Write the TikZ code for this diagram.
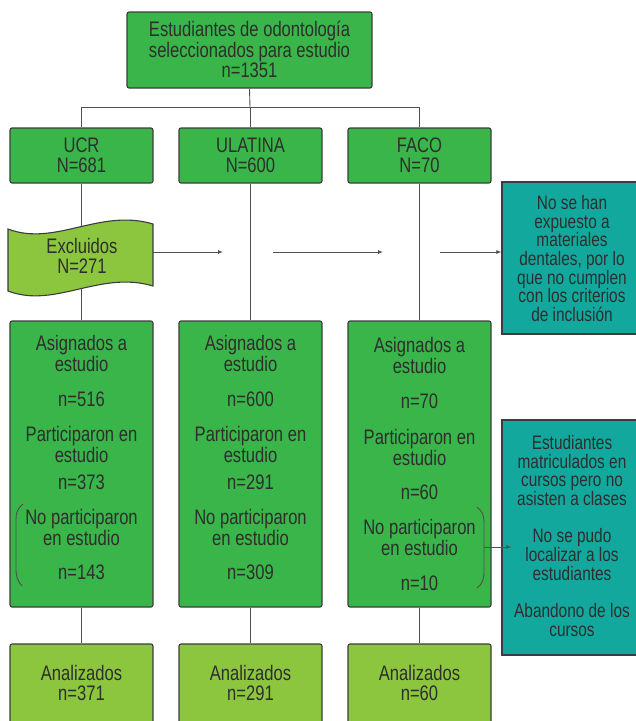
\documentclass[tikz,border=0pt]{standalone}
\usepackage{fontspec}
\setmainfont{Liberation Sans}[FakeStretch=0.79]
\usetikzlibrary{calc}
\usetikzlibrary{arrows.meta}

\definecolor{verde}{HTML}{39B54A}
\definecolor{verdeclaro}{HTML}{8CC63F}
\definecolor{turquesa}{HTML}{12A89D}
\definecolor{borde}{HTML}{3C3C3C}
\definecolor{texto}{HTML}{2E2E2E}

\begin{document}
\begin{tikzpicture}[x=1pt, y=-1pt,
    caja/.style={draw=borde, line width=1.1pt, rounded corners=2pt, fill=verde,
        minimum width=143pt, inner sep=0pt},
    nota/.style={draw=borde, line width=1.1pt, fill=turquesa,
        minimum width=140pt, inner sep=0pt},
    txt/.style={text=texto, align=center, inner sep=0pt,
        font=\fontsize{21}{20.5}\selectfont},
    txtnota/.style={txt, font=\fontsize{19.5}{18.7}\selectfont},
    linea/.style={draw=borde!90, line width=0.9pt},
    flecha/.style={linea, -{Latex[length=5pt, width=4pt]}}]

    \useasboundingbox (0,0) rectangle (636,721);

    % caja superior
    \node[caja, minimum width=245pt, minimum height=76pt] (total) at (249.5,50) {};
    \node[txt] (total_t) at (249.5,49.5)
        {Estudiantes de odontología\\seleccionados para estudio\\n=1351};

    % universidades
    \node[caja, minimum height=55pt] (ucr) at (81.5,155.5) {};
    \node[caja, minimum height=55pt] (ula) at (250.5,155.5) {};
    \node[caja, minimum height=55pt] (faco) at (419.5,155.5) {};
    \node[txt] (ucr_t)  at (ucr)  {UCR\\N=681};
    \node[txt] (ula_t)  at (ula)  {ULATINA\\N=600};
    \node[txt] (faco_t) at (faco) {FACO\\N=70};

    % cajas de asignados
    \node[caja, minimum height=286pt] (ucr_a)  at (81.5,464) {};
    \node[caja, minimum height=286pt] (ula_a)  at (250.5,464) {};
    \node[caja, minimum height=286pt] (faco_a) at (419.5,464) {};
    \node[txt] (ucr_at) at (81.5,457.5)
        {Asignados a\\estudio\\[15pt]n=516\\[14.5pt]Participaron en\\estudio\\[7pt]n=373\\[14.5pt]No participaron\\en estudio\\[14pt]n=143};
    \node[txt] (ula_at) at (250.5,457.5)
        {Asignados a\\estudio\\[15pt]n=600\\[14.5pt]Participaron en\\estudio\\[7pt]n=291\\[14.5pt]No participaron\\en estudio\\[14pt]n=309};
    \node[txt] (faco_at) at (419.5,464)
        {Asignados a\\estudio\\[15pt]n=70\\[15.5pt]Participaron en\\estudio\\[14pt]n=60\\[14.5pt]No participaron\\en estudio\\[15pt]n=10};

    % analizados
    \node[caja, fill=verdeclaro, minimum height=90pt] (ucr_n)  at (81.5,689) {};
    \node[caja, fill=verdeclaro, minimum height=90pt] (ula_n)  at (250.5,689) {};
    \node[caja, fill=verdeclaro, minimum height=90pt] (faco_n) at (419.5,689) {};
    \node[txt] (ucr_nt)  at (81.5,683)  {Analizados\\n=371};
    \node[txt] (ula_nt)  at (250.5,683) {Analizados\\n=291};
    \node[txt] (faco_nt) at (419.5,683) {Analizados\\n=60};

    % notas a la derecha
    \node[nota, minimum height=152pt] (motivo1) at (572,258) {};
    \node[txtnota] (motivo1_t) at (572,258.5)
        {No se han\\expuesto a\\materiales\\dentales, por lo\\que no cumplen\\con los criterios\\de inclusión};
    \node[nota, minimum height=235pt] (motivo2) at (572,537.5) {};
    \node[txtnota] (motivo2_t) at (572,536)
        {Estudiantes\\matriculados en\\cursos pero no\\asisten a clases\\[18.7pt]No se pudo\\localizar a los\\estudiantes\\[18.7pt]Abandono de los\\cursos};

    % conectores
    \coordinate (bus) at (250,107);
    \draw[linea] (total.south) -- (bus);
    \draw[linea] (ucr.north) -- (ucr.north |- bus) -- (faco.north |- bus) -- (faco.north);
    \draw[linea] (ula.north) -- (ula.north |- bus);
    \foreach \u in {ucr, ula, faco} {
        \draw[linea] (\u.south) -- (\u_a.north);
        \draw[linea] (\u_a.south) -- (\u_n.north);
    }

    % excluidos
    \draw[draw=borde, line width=1.1pt, fill=verdeclaro]
        (8,229) .. controls (55,247) and (100,208) .. (153,224)
        -- (153,286) .. controls (100,270) and (55,309) .. (8,291) -- cycle;
    \node[txt] (excl) at (82,256) {Excluidos\\N=271};

    % flechas de exclusion
    \coordinate (e1) at (153,252);
    \coordinate (e2) at (223,252);
    \coordinate (e3) at (273,252);
    \coordinate (e4) at (383,252);
    \coordinate (e5) at (440,252);
    \draw[flecha] (e1) -- (e2);
    \draw[flecha] (e3) -- (e4);
    \draw[flecha] (e5) -- (motivo1.west |- e5);

    % llaves
    \draw[linea] (23,504) .. controls (17,509) and (16,513) .. (16,520)
        -- (16,568) .. controls (16,576) and (17,580) .. (22,586);
    \draw[linea] (477,507) .. controls (482,511) and (484,515) .. (484,522)
        -- (484,572) .. controls (484,580) and (482,584) .. (477,588);
    \coordinate (llave) at (484,547);
    \draw[flecha] (llave) -- ($(motivo2.west |- llave) + (10,0)$);

\end{tikzpicture}
\end{document}
